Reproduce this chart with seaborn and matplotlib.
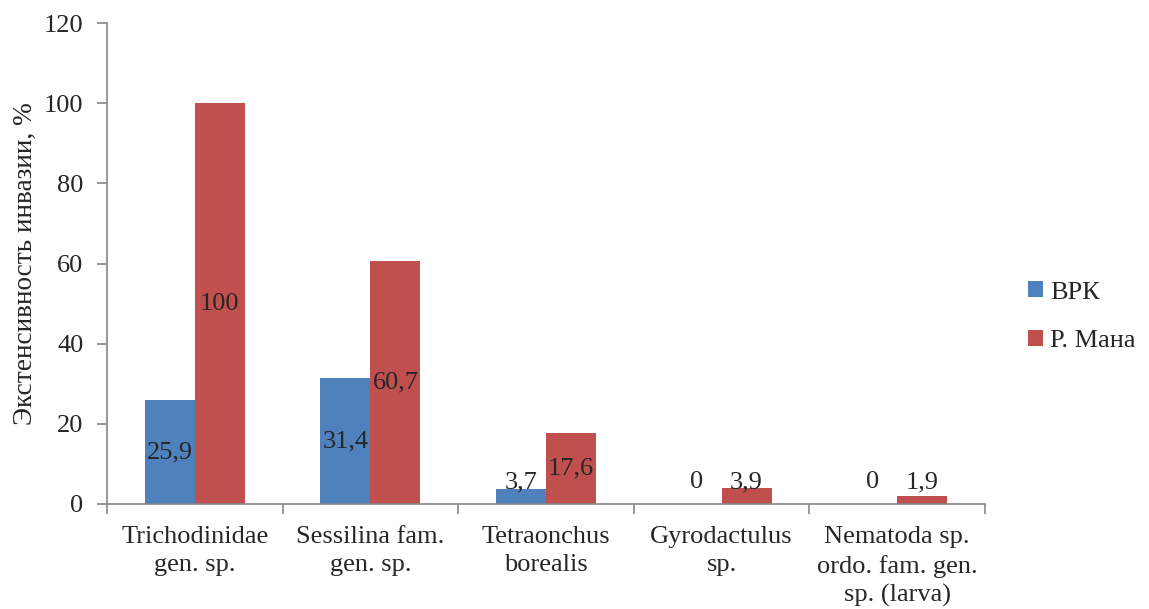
import matplotlib
matplotlib.use("Agg")
import matplotlib.pyplot as plt
import seaborn as sns
import pandas as pd
import numpy as np

categories = ["Trichodinidae\ngen. sp.", "Sessilina fam.\ngen. sp.", "Tetraonchus\nborealis",
              "Gyrodactulus\nsp.", "Nematoda sp.\nordo. fam. gen.\nsp. (larva)"]
series_names = ["ВРК", "Р. Мана"]
vrk = [25.9, 31.4, 3.7, 0, 0]
mana = [100, 60.7, 17.6, 3.9, 1.9]
vrk_labels = ["25,9", "31,4", "3,7", "0", "0"]
mana_labels = ["100", "60,7", "17,6", "3,9", "1,9"]
colors = ["#4F81BD", "#C0504D"]

sns.set_style("white")
plt.rcParams['font.family'] = ['Liberation Serif', 'DejaVu Serif']

df = pd.DataFrame({
    "cat": categories * 2,
    "series": [series_names[0]] * 5 + [series_names[1]] * 5,
    "val": vrk + mana,
})

fig = plt.figure(figsize=(11.49, 6.09), dpi=100)
ax = fig.add_axes([107/1149, 1 - 504/609, (985-107)/1149, (504-23)/609])
sns.barplot(data=df, x="cat", y="val", hue="series", palette=colors, width=0.57,
            gap=0, dodge=True, ax=ax, errorbar=None, saturation=1, linewidth=0)

ax.set_ylim(0, 120)
ax.set_xlim(-0.5, 4.5)
ax.set_yticks(np.arange(0, 121, 20))
ax.tick_params(axis='y', labelsize=19, length=7, width=1.2, color="#868686", direction='out', left=True, pad=10)
ax.set_xticks(np.arange(-0.5, 4.6, 1))
ax.set_xticklabels([])
ax.set_xticks(np.arange(5), minor=True)
ax.set_xticklabels(categories, minor=True, fontsize=19, linespacing=1.36)
ax.tick_params(axis='x', which='major', length=7, width=1.2, color="#868686", bottom=True)
ax.tick_params(axis='x', which='minor', length=0, pad=16)
for s in ["top", "right"]:
    ax.spines[s].set_visible(False)
for s in ["left", "bottom"]:
    ax.spines[s].set_color("#868686")
    ax.spines[s].set_linewidth(1.2)
ax.set_xlabel("")
ax.set_ylabel("Экстенсивность инвазии, %", fontsize=19.6, labelpad=4)

# value labels
for cont, labs in zip(ax.containers, [vrk_labels, mana_labels]):
    for rect, lab in zip(cont, labs):
        h = rect.get_height()
        y = max(h / 2, 5.5)
        ax.text(rect.get_x() + rect.get_width() / 2, y, lab, ha='center', va='center', fontsize=19)

handles, labels = ax.get_legend_handles_labels()
ax.legend(handles, labels, loc='center left', bbox_to_anchor=(1.022, 0.389), frameon=False,
          fontsize=19, handlelength=0.55, handleheight=0.55, handletextpad=0.3, labelspacing=1.0)

fig.savefig("out.png", dpi=100)
